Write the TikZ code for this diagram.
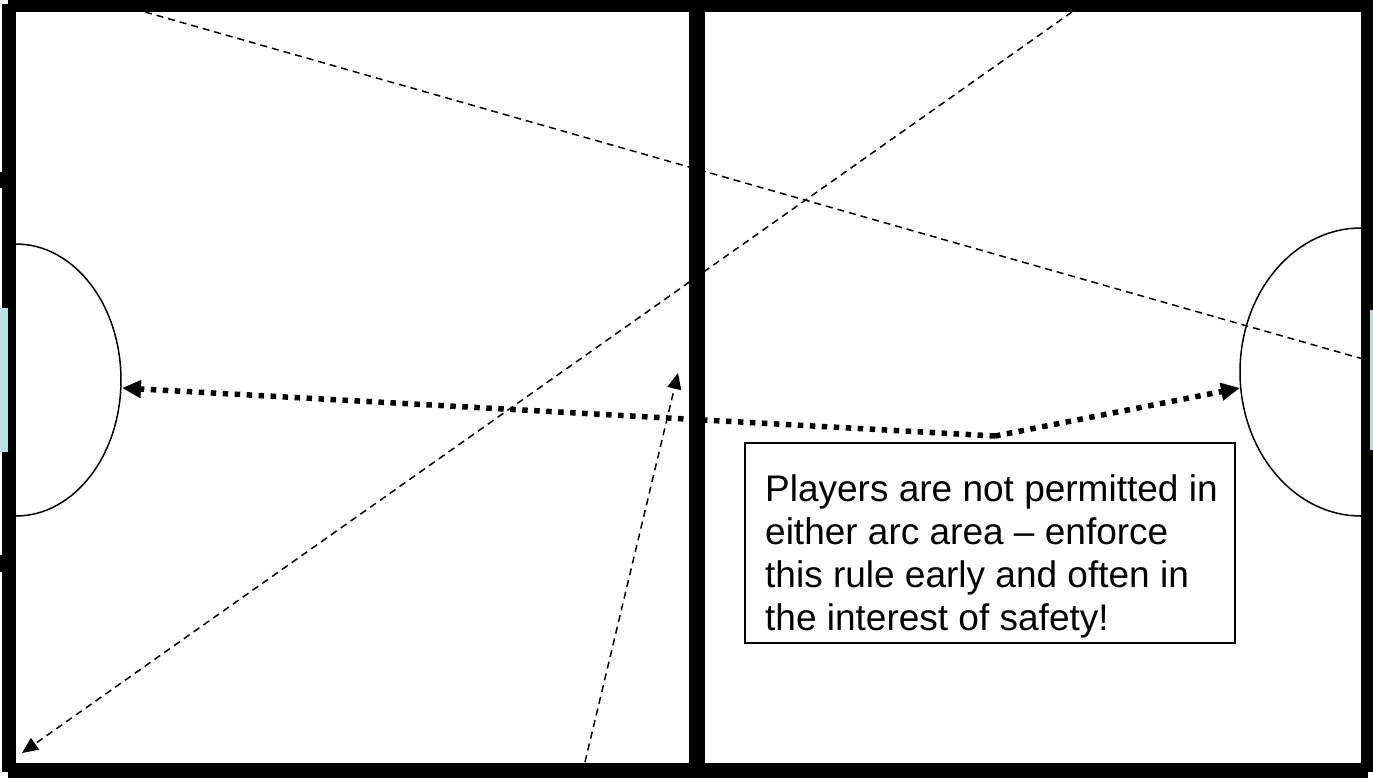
\documentclass[tikz,border=0pt]{standalone}
\usepackage{fontspec}
\setmainfont{Liberation Sans}
\usetikzlibrary{arrows.meta}
\definecolor{gapblue}{RGB}{187,224,227}
\begin{document}
\begin{tikzpicture}[x=1pt,y=-1pt,
  wall/.style={fill=black},
  gapfill/.style={fill=gapblue},
  arcline/.style={line width=1.5pt},
  thindash/.style={line width=1.5pt, dash pattern=on 7pt off 5pt},
  thinarrow/.style={thindash, -{Triangle[length=16pt,width=14pt]}},
  dotarrow/.style={line width=5.5pt, dash pattern=on 5.5pt off 6.5pt, -{Triangle[length=19pt,width=17pt]}},
  notebox/.style={draw, line width=2pt, inner sep=0pt, fill=white},
  notetext/.style={inner sep=0pt, align=left, font=\fontsize{37}{43.2}\selectfont}
]
\useasboundingbox (0,0) rectangle (1373,778);
\fill[white] (0,0) rectangle (1373,778);

% named points
\coordinate (dA1) at (145,12);
\coordinate (dA2) at (1370,361);
\coordinate (dB1) at (1072,12);
\coordinate (dB2) at (22,753);
\coordinate (dC1) at (585,762);
\coordinate (dC2) at (678,373);
\coordinate (split) at (995,436);
\coordinate (larc) at (122,388);
\coordinate (rarc) at (1240,388);

% arcs
\draw[arcline] (16,244) arc[start angle=-90, end angle=90, x radius=105, y radius=136];
\draw[arcline] (1361,228) arc[start angle=-90, end angle=-270, x radius=121, y radius=144];

% dashed lines
\draw[thindash] (dA1) -- (dA2);
\draw[thinarrow] (dB1) -- (dB2);
\draw[thinarrow] (dC1) -- (dC2);

% dotted arrows
\draw[dotarrow] (split) -- (larc);
\draw[dotarrow] (split) -- (rarc);

% walls
\fill[wall] (8,0) rectangle (1373,12);
\fill[wall] (1.5,4) rectangle (16,772);
\fill[wall] (8,763) rectangle (1368,778);
\fill[wall] (1361,0) rectangle (1373,772);
\fill[wall] (689,0) rectangle (705,778);
\fill[wall] (0,172) rectangle (2,188);
\fill[wall] (0,555) rectangle (2,572);

% gaps
\fill[gapfill] (0,308) rectangle (8,452);
\fill[gapfill] (1370,310) rectangle (1373,450);

% note
\node[notebox, anchor=north west, minimum width=490pt, minimum height=200pt] (note) at (744,442) {};
\node[notetext, anchor=north west] (notetext) at (765,474) {Players are not permitted in\\either arc area – enforce\\this rule early and often in\\the interest of safety!};
\end{tikzpicture}
\end{document}
